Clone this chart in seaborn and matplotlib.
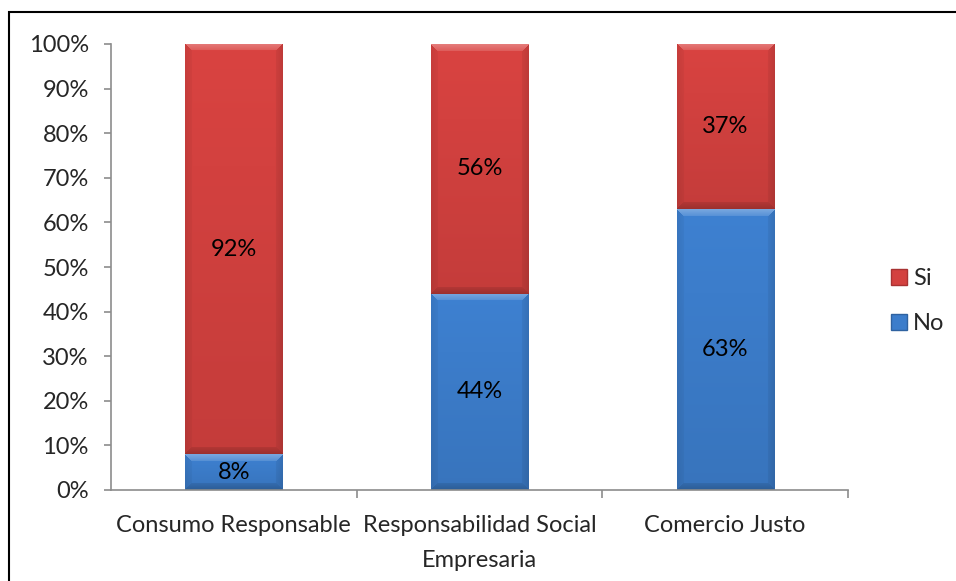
import numpy as np
import pandas as pd
import matplotlib
matplotlib.use("Agg")
import matplotlib.pyplot as plt
from matplotlib.patches import Rectangle
from matplotlib.lines import Line2D
from matplotlib.ticker import FixedLocator, PercentFormatter
import seaborn as sns

categories = ["Consumo Responsable", "Responsabilidad Social\nEmpresaria", "Comercio Justo"]
no_values = [8, 44, 63]
si_values = [92, 56, 37]
series_names = ["Si", "No"]

RED = "#D3413F"
BLUE = "#3C7DCB"
FS = 17

sns.set_theme(style="white")
plt.rcParams["font.family"] = ["Lato", "DejaVu Sans"]

fig = plt.figure(figsize=(9.56, 5.81), dpi=100)
ax = fig.add_axes([111 / 956, 1 - 490 / 581, (848 - 111) / 956, (490 - 44) / 581])

df = pd.DataFrame({"cat": categories, "No": no_values, "Si": si_values})

sns.barplot(data=df, x="cat", y="No", color=BLUE, width=0.395, ax=ax,
            saturation=1, linewidth=0)
sns.barplot(data=df, x="cat", y="Si", bottom=df["No"], color=RED, width=0.395,
            ax=ax, saturation=1, linewidth=0)

ax.set_xlim(-0.5, 2.5)
ax.set_ylim(0, 100)


def lighten(rgb, f):
    return rgb + (1 - rgb) * f


# Bevelled look on each segment, painted as an image clipped to the bar
fig.canvas.draw()
for patch in list(ax.patches):
    bb = patch.get_window_extent()
    w, h = max(int(round(bb.width)), 2), max(int(round(bb.height)), 2)
    base = np.array(matplotlib.colors.to_rgb(patch.get_facecolor()))
    yy, xx = np.mgrid[0:h, 0:w]
    t = yy / max(h - 1, 1)
    img = np.ones((h, w, 3)) * base
    img = img * (1.03 - 0.10 * t)[..., None]
    b = 7
    d = np.stack([yy, h - 1 - yy, xx, w - 1 - xx])
    region = np.argmin(d, axis=0)
    dmin = d.min(axis=0)
    edge = dmin < b
    fall = 1 - dmin / b  # strongest at the outer rim
    m = edge & (region == 0)
    img[m] = lighten(img[m], (0.12 + 0.18 * fall[m])[:, None])
    for k, f in {1: -0.20, 2: -0.08, 3: -0.12}.items():
        m = edge & (region == k)
        img[m] = img[m] * (1 + f * (0.4 + 0.6 * fall[m]))[:, None]
    img = np.clip(img, 0, 1)
    x0, y0 = patch.get_x(), patch.get_y()
    im = ax.imshow(img, extent=(x0, x0 + patch.get_width(), y0, y0 + patch.get_height()),
                   origin="upper", aspect="auto", zorder=patch.get_zorder() + 0.1,
                   interpolation="bilinear")
    im.set_clip_path(patch)

ax.set_xlim(-0.5, 2.5)
ax.set_ylim(0, 100)
ax.set_aspect("auto")

# value labels
for i in range(len(categories)):
    ax.text(i, no_values[i] / 2, f"{no_values[i]}%", ha="center", va="center",
            fontsize=FS, color="black", zorder=5)
    ax.text(i, no_values[i] + si_values[i] / 2, f"{si_values[i]}%", ha="center",
            va="center", fontsize=FS, color="black", zorder=5)

ax.set_xlabel("")
ax.set_ylabel("")
ax.yaxis.set_major_locator(FixedLocator(np.arange(0, 101, 10)))
ax.yaxis.set_major_formatter(PercentFormatter(decimals=0))
ax.set_xticks(range(len(categories)))
ax.set_xticklabels(categories, fontsize=FS, linespacing=1.85)
ax.tick_params(axis="y", labelsize=FS, length=5, width=1.2, color="#8C8C8C",
               pad=11, left=True)
ax.tick_params(axis="x", length=0, pad=18)
# category boundary ticks
ax.set_xticks([0.5, 1.5, 2.5], minor=True)
ax.tick_params(axis="x", which="minor", length=6, width=1.2, color="#8C8C8C",
               bottom=True)

for side in ["top", "right"]:
    ax.spines[side].set_visible(False)
for side in ["left", "bottom"]:
    ax.spines[side].set_color("#8C8C8C")
    ax.spines[side].set_linewidth(1.2)

# legend with square markers
handles = [Line2D([], [], marker="s", linestyle="", markersize=11,
                  markerfacecolor=RED, markeredgecolor="#A83232"),
           Line2D([], [], marker="s", linestyle="", markersize=11,
                  markerfacecolor=BLUE, markeredgecolor="#2F62A0")]
fig.legend(handles, series_names, loc="center left",
           bbox_to_anchor=(866 / 956, 1 - 301 / 581), frameon=False,
           fontsize=FS, handletextpad=0.1, labelspacing=1.0, handlelength=1.0)

# outer chart frame
fig.patches.append(Rectangle((9 / 956, -0.1), 1.2, 1 - 12 / 581 + 0.1,
                             transform=fig.transFigure, fill=False,
                             edgecolor="black", linewidth=1.5))

fig.savefig("out.png", dpi=100)
